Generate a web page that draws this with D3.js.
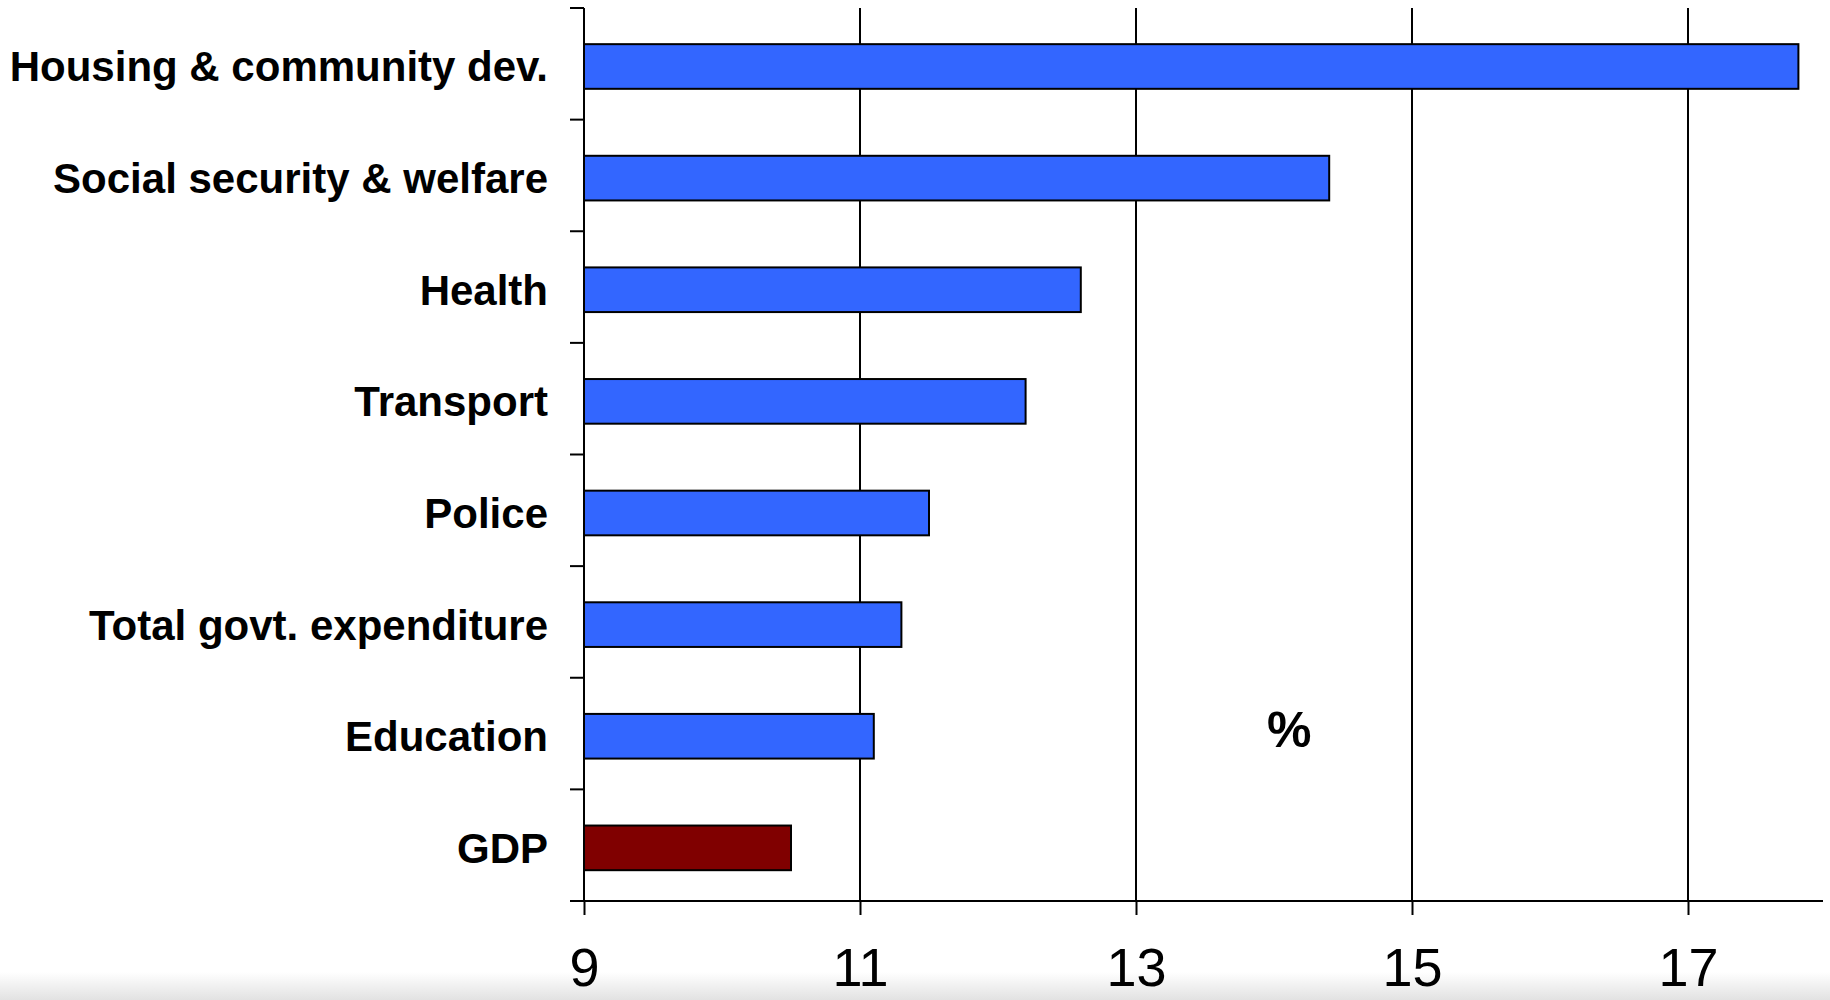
<!DOCTYPE html>
<html>
<head>
<meta charset="utf-8">
<script src="https://cdn.jsdelivr.net/npm/d3@7"></script>
<style>
  html, body { margin: 0; padding: 0; background: #fff; }
  svg { display: block; }
</style>
</head>
<body>
<svg id="chart" width="1830" height="1000"></svg>
<script>
// Growth by spending category, per cent
const categories = [
  "Housing & community dev.",
  "Social security & welfare",
  "Health",
  "Transport",
  "Police",
  "Total govt. expenditure",
  "Education",
  "GDP"
];
const values = [17.8, 14.4, 12.6, 12.2, 11.5, 11.3, 11.1, 10.5];
const highlight = ["GDP"];
const xTicks = [9, 11, 13, 15, 17];
const unitLabel = "%";

const svg = d3.select("#chart");
const W = 1830, H = 1000;

// faint shading along the bottom edge
const defs = svg.append("defs");
const grad = defs.append("linearGradient")
  .attr("id", "bottomShade").attr("x1", 0).attr("y1", 0).attr("x2", 0).attr("y2", 1);
grad.append("stop").attr("offset", "0%").attr("stop-color", "#ffffff");
grad.append("stop").attr("offset", "100%").attr("stop-color", "#e2e2e2");
svg.append("rect").attr("x", 0).attr("y", 972).attr("width", W).attr("height", H - 972)
  .attr("fill", "url(#bottomShade)");

const x = d3.scaleLinear().domain([9, 18]).range([584, 1826]);
const y = d3.scaleBand().domain(categories).range([8, 901])
  .paddingInner(0.6).paddingOuter(0.3).align(0.54);

const plotTop = y.range()[0], plotBottom = y.range()[1];
const tickLen = 14;

// vertical gridlines
svg.append("g").selectAll("line")
  .data(xTicks.filter(t => t !== x.domain()[0]))
  .join("line")
  .attr("x1", d => x(d)).attr("x2", d => x(d))
  .attr("y1", plotTop).attr("y2", plotBottom)
  .attr("stroke", "#000").attr("stroke-width", 2);

// bars
const data = categories.map((c, i) => ({ c, v: values[i] }));
svg.append("g").selectAll("rect")
  .data(data)
  .join("rect")
  .attr("x", x(x.domain()[0]))
  .attr("y", d => y(d.c))
  .attr("width", d => x(d.v) - x(x.domain()[0]))
  .attr("height", y.bandwidth())
  .attr("fill", d => highlight.includes(d.c) ? "#800000" : "#3366ff")
  .attr("stroke", "#000").attr("stroke-width", 2);

// y axis: line plus ticks between categories
const yAxis = svg.append("g");
yAxis.append("line")
  .attr("x1", x(9)).attr("x2", x(9)).attr("y1", plotTop).attr("y2", plotBottom)
  .attr("stroke", "#000").attr("stroke-width", 2);
yAxis.selectAll("line.tick")
  .data(d3.range(categories.length + 1))
  .join("line").attr("class", "tick")
  .attr("x1", x(9) - tickLen).attr("x2", x(9))
  .attr("y1", i => plotTop + i * y.step()).attr("y2", i => plotTop + i * y.step())
  .attr("stroke", "#000").attr("stroke-width", 2);

// category labels
svg.append("g").selectAll("text")
  .data(categories)
  .join("text")
  .attr("x", 548)
  .attr("y", d => y(d) + y.bandwidth() / 2 + 15)
  .attr("text-anchor", "end")
  .attr("font-family", "'Liberation Sans', Arial, Helvetica, sans-serif")
  .attr("font-weight", "bold")
  .attr("font-size", 42)
  .attr("fill", "#000")
  .text(d => d);

// x axis
const xAxis = svg.append("g").attr("transform", `translate(0,${plotBottom})`)
  .call(d3.axisBottom(x).tickValues(xTicks).tickSize(tickLen).tickPadding(0).tickFormat(d3.format("d")));
xAxis.select(".domain").remove();
xAxis.selectAll(".tick line").attr("stroke", "#000").attr("stroke-width", 2);
xAxis.selectAll(".tick text")
  .attr("y", 85).attr("dy", null)
  .attr("font-family", "'Liberation Sans Narrow', 'Arial Narrow', 'Liberation Sans', sans-serif")
  .attr("font-size", 54)
  .attr("fill", "#000");
xAxis.append("line")
  .attr("x1", x(9) - tickLen).attr("x2", x(18) - 3)
  .attr("y1", 0).attr("y2", 0)
  .attr("stroke", "#000").attr("stroke-width", 2);

// unit label
svg.append("text")
  .attr("x", x(14.4) - 40).attr("y", 747)
  .attr("text-anchor", "middle")
  .attr("font-family", "'Liberation Sans', Arial, sans-serif")
  .attr("font-weight", "bold")
  .attr("font-size", 50)
  .attr("fill", "#000")
  .text(unitLabel);
</script>
</body>
</html>
